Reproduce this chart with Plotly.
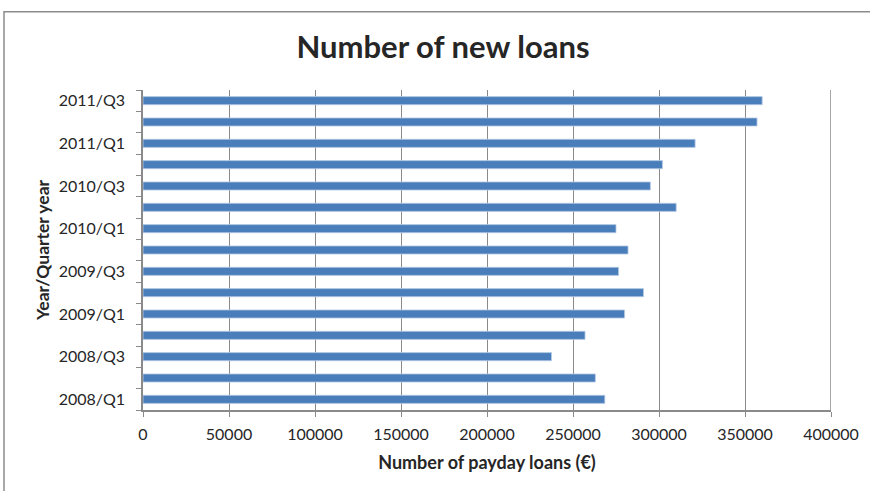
import plotly.graph_objects as go

# Quarterly categories, oldest first (drawn bottom to top)
quarters = [
    "2008/Q1", "2008/Q2", "2008/Q3", "2008/Q4",
    "2009/Q1", "2009/Q2", "2009/Q3", "2009/Q4",
    "2010/Q1", "2010/Q2", "2010/Q3", "2010/Q4",
    "2011/Q1", "2011/Q2", "2011/Q3",
]
new_loans = [
    268500, 263000, 237500, 257000,
    280000, 291000, 276500, 282000,
    275000, 310000, 295000, 302000,
    321000, 357000, 360000,
]
x_ticks = [0, 50000, 100000, 150000, 200000, 250000, 300000, 350000, 400000]
# only every other quarter gets a printed label
y_ticktext = [q if i % 2 == 0 else "" for i, q in enumerate(quarters)]

FONT = "Lato"
TEXT = "#262626"
GRID = "#8a8a8a"

fig = go.Figure(
    go.Bar(
        x=new_loans,
        y=quarters,
        orientation="h",
        width=0.38,
        marker=dict(color="#4a7ebb", line=dict(color="#b9cde6", width=0.8)),
        hoverinfo="x+y",
    )
)

fig.update_layout(
    width=870,
    height=491,
    margin=dict(l=143, r=39, t=89.5, b=80.5),
    paper_bgcolor="white",
    plot_bgcolor="white",
    showlegend=False,
    font=dict(family=FONT, color=TEXT, size=16),
    title=dict(
        text="<b>Number of new loans</b>",
        x=443 / 870,
        xanchor="center",
        y=1 - 47 / 491,
        yanchor="middle",
        font=dict(family=FONT, size=31, color=TEXT),
    ),
    xaxis=dict(
        range=[0, 400000],
        tickvals=x_ticks,
        ticktext=[str(v) for v in x_ticks],
        showgrid=True,
        gridcolor=GRID,
        gridwidth=1.2,
        zeroline=False,
        showline=True,
        linecolor=GRID,
        linewidth=2,
        ticks="outside",
        ticklen=5,
        tickcolor=GRID,
        tickfont=dict(family=FONT, size=16, color=TEXT),
        ticklabelstandoff=4,
        title=dict(
            text="<b>Number of payday loans (€)</b>",
            font=dict(family=FONT, size=18, color=TEXT),
            standoff=14,
        ),
    ),
    yaxis=dict(
        type="category",
        categoryorder="array",
        categoryarray=quarters,
        range=[-0.5, len(quarters) - 0.5],
        tickvals=quarters,
        ticktext=y_ticktext,
        tickson="boundaries",
        ticks="outside",
        ticklen=5,
        tickcolor=GRID,
        showgrid=False,
        showline=True,
        linecolor=GRID,
        linewidth=1.5,
        tickfont=dict(family=FONT, size=16, color=TEXT),
        ticklabelstandoff=13,
        title=dict(
            text="<b>Year/Quarter year</b>",
            font=dict(family=FONT, size=17.5, color=TEXT),
            standoff=5,
        ),
    ),
    shapes=[
        # outer chart border
        dict(
            type="rect",
            xref="paper",
            yref="paper",
            x0=(4 - 143) / 688,
            x1=1.2,
            y0=-0.4,
            y1=(410.5 - 11) / 321,
            line=dict(color="#8c8c8c", width=1.5),
            fillcolor="rgba(0,0,0,0)",
            layer="below",
        ),
        # right-hand gridline at the axis maximum
        dict(
            type="line",
            xref="x",
            yref="paper",
            x0=400000,
            x1=400000,
            y0=0,
            y1=1,
            line=dict(color=GRID, width=1.5),
        ),
    ],
)

fig.write_html("out.html")
